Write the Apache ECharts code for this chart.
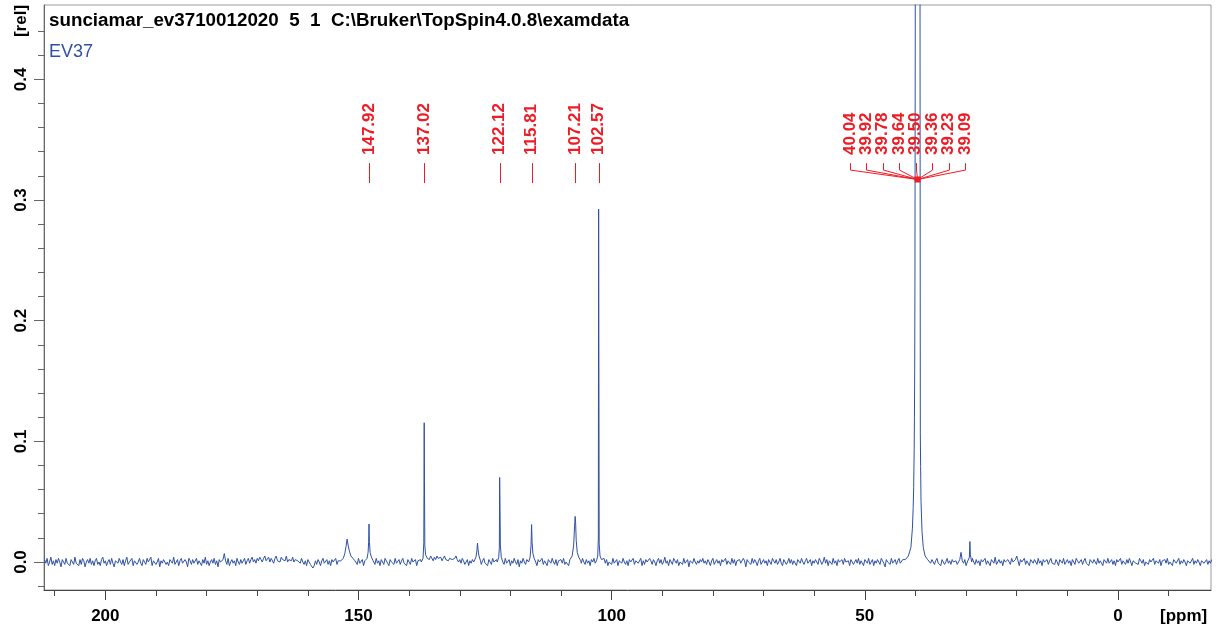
<!DOCTYPE html>
<html><head><meta charset="utf-8">
<script src="https://cdn.jsdelivr.net/npm/echarts@6/dist/echarts.min.js"></script>
<style>html,body{margin:0;padding:0;background:#fff}#c{width:1219px;height:631px}</style>
</head><body><div id="c"></div>
<script>
// ---------- text ----------
const titleText = 'sunciamar_ev3710012020  5  1  C:\\Bruker\\TopSpin4.0.8\\examdata';
const sampleName = 'EV37';
const xUnit = '[ppm]';
const yUnit = '[rel]';

// ---------- axes ----------
const xRange = [-18.37, 212.11];
const yRange = [-0.0232, 0.4616];
const xMajorTicks = [200, 150, 100, 50, 0];
const xMinorTicks = [210, 200, 190, 180, 170, 160, 150, 140, 130, 120, 110, 100, 90, 80, 70, 60, 50, 40, 30, 20, 10, 0, -10];
const yMajorTicks = [0, 0.1, 0.2, 0.3, 0.4];
const yMinorTicks = [-0.02, 0, 0.02, 0.04, 0.06, 0.08, 0.1, 0.12, 0.14, 0.16, 0.18, 0.2, 0.22, 0.24, 0.26, 0.28, 0.3, 0.32, 0.34, 0.36, 0.38, 0.4, 0.42, 0.44];

// ---------- peak picking labels ----------
const peakShifts = [147.92, 137.02, 122.12, 115.81, 107.21, 102.57];
const solventShifts = [40.04, 39.92, 39.78, 39.64, 39.50, 39.36, 39.23, 39.09];

// ---------- spectrum: baseline (noise, in 1/1000 rel) ----------
const baselineStart = 212;   // ppm of first baseline value
const baselineStep = 0.25;   // ppm between baseline values
const baselineNoise = [
  2,-1,3,-3,0,4,-2,1,-3,2,-1,3,0,-4,2,1,-2,3,-1,0,-3,2,1,-2,4,-1,0,-3,2,-2,3,1,-4,0,2,-1,3,-2,1,-3,
  1,3,-2,0,-3,2,4,-1,1,-3,0,2,-2,3,-1,-4,1,2,-1,3,0,-2,2,-3,1,4,-2,0,-1,3,-3,1,2,-2,0,3,-1,-3,2,1,
  -2,3,0,-1,4,-3,1,2,-2,0,3,-4,1,-1,2,3,-2,0,-3,2,1,-1,4,-2,0,2,-3,1,3,-1,-2,2,0,-4,3,1,-2,2,-1,0,
  3,-2,1,0,-3,2,-1,4,-2,1,-3,0,2,-1,3,-2,1,-4,2,0,-1,2,7,1,-2,3,-3,0,2,-1,1,-3,3,0,-2,2,-1,1,3,-2,
  1,3,-1,2,4,0,2,-1,3,1,4,2,0,3,5,1,2,4,0,3,2,-1,3,5,1,2,0,4,2,3,1,5,0,2,3,1,4,0,2,3,
  1,2,-1,3,0,-2,1,-3,2,0,-2,-1,-5,-3,1,-2,2,0,-3,1,3,-1,0,2,-2,1,-3,2,0,-1,3,-2,1,0,2,3,4,6,8,10,
  12,10,8,6,4,3,1,-2,3,-1,0,2,-3,1,2,3,8,12,6,2,0,-2,3,-1,1,-3,2,0,-2,3,1,-1,-3,2,0,1,-2,3,-1,0,
  2,-2,1,3,-1,0,-3,2,1,-2,3,0,-1,2,-3,1,0,2,4,6,4,2,3,4,2,5,3,1,4,2,5,3,2,4,1,3,5,2,3,1,
  3,4,2,1,3,5,2,0,2,-1,3,1,-2,0,2,-3,1,-1,2,0,2,4,8,4,1,-2,1,3,-1,0,-3,2,1,-2,3,0,-1,2,1,-3,
  0,2,1,-2,3,-1,0,2,-3,1,-1,3,0,-2,2,-4,1,-1,3,0,-2,2,1,3,6,8,5,2,1,-3,2,0,-1,3,-2,1,0,-3,2,1,
  -1,3,0,-2,2,-3,1,0,2,-1,3,-2,0,1,-3,2,1,4,8,20,25,10,4,2,-1,3,0,-2,2,-1,1,-3,2,0,3,-1,2,5,10,20,
  2,1,3,-1,2,-3,0,1,-2,3,-1,0,2,-3,1,2,-1,3,0,-2,1,-3,2,0,-1,3,-2,1,2,-1,0,3,-3,1,-2,2,0,-1,3,1,
  -2,2,0,-3,1,3,-1,2,-2,0,4,-1,1,-3,2,0,-2,3,1,-1,2,-3,0,1,-2,3,-1,0,2,-4,1,2,-1,3,0,-2,1,-1,2,0,
  3,-1,1,-2,2,0,-3,1,3,-2,0,2,-1,1,-3,2,0,-1,3,-2,1,0,-2,3,-1,2,-3,1,0,2,-1,-2,3,1,-4,2,0,1,-2,3,
  -1,2,0,-3,1,3,-2,0,2,-1,1,-3,2,0,-2,3,1,-1,2,-2,0,3,-1,-3,2,1,-2,0,3,-1,2,-2,1,0,-3,2,1,-1,3,0,
  -2,1,3,-1,0,2,-3,1,-1,2,0,-2,3,1,-2,0,4,-1,2,-3,1,0,-2,3,-1,1,-3,2,0,-1,2,-2,3,0,-1,1,-3,2,1,-2,
  0,2,-1,3,-2,1,0,-3,2,1,-1,3,-2,0,2,-3,1,-1,2,0,-2,3,1,-1,-4,2,0,1,-2,3,-1,0,2,-2,1,3,-1,0,2,1,
  2,3,4,6,8,10,14,20,30,40,60,80,40,20,12,8,5,3,2,1,-1,2,0,-2,1,3,-1,0,-3,2,1,-2,0,3,-1,1,-2,2,0,-1,
  1,-2,0,2,8,1,-1,2,-3,0,2,4,10,3,0,-2,2,-1,1,-3,2,0,-1,3,-2,1,0,-3,2,1,-1,4,-2,0,2,-1,1,-3,2,0,
  -1,2,1,-2,3,0,-1,2,5,1,-3,2,0,-1,3,-2,1,0,-3,2,1,-1,2,0,-2,3,-1,1,-3,2,0,-1,2,-2,1,3,-1,0,-2,2,
  0,-3,2,1,-1,3,-2,0,2,-1,1,-3,2,0,-2,3,1,-1,0,2,-2,1,3,-1,0,-3,2,1,-1,2,0,-2,3,-1,1,0,-3,2,1,-1,
  3,-1,0,2,-2,1,-3,2,0,-1,3,-2,1,0,-2,2,-1,3,0,-3,1,2,-1,0,-2,3,1,-1,2,-3,0,1,-2,2,0,-1,3,-2,1,0,
  -1,2,-3,1,0,2,-1,3,-2,0,1,-3,2,1,-1,0,3,-2,1,-1,2,0,-3,1,2,-1,0,3,-2,1,-1,2,0,-3,1,2,-1,0,2,-2,
  1,-1,2
];

// ---------- spectrum: peaks as [ppm, rel] ----------
const peak152 = [[153.5,0.001],[153.0,0.003],[152.7,0.007],[152.45,0.013],[152.25,0.019],[152.05,0.014],[151.8,0.009],[151.5,0.005],[151.1,0.003],[150.7,0.001]];
const peak148 = [[148.6,0.0],[148.3,0.003],[148.1,0.008],[148.0,0.016],[147.92,0.0315],[147.85,0.017],[147.7,0.008],[147.45,0.004],[147.1,0.001]];
const peak137 = [[137.6,0.0],[137.25,0.003],[137.1,0.016],[137.02,0.1154],[136.97,0.0673],[136.9,0.014],[136.75,0.006],[136.4,0.003]];
const peak126 = [[127.1,0.0],[126.8,0.004],[126.62,0.009],[126.5,0.0157],[126.38,0.010],[126.2,0.005],[125.9,0.001]];
const peak122 = [[122.6,0.0],[122.3,0.004],[122.18,0.012],[122.12,0.070],[122.06,0.049],[121.98,0.014],[121.8,0.004],[121.5,0.0]];
const peak116 = [[116.4,0.0],[116.1,0.004],[115.92,0.014],[115.81,0.031],[115.72,0.017],[115.55,0.007],[115.3,0.003],[115.0,0.0]];
const peak107 = [[108.2,0.001],[107.8,0.005],[107.5,0.014],[107.32,0.030],[107.21,0.0378],[107.12,0.033],[107.0,0.018],[106.8,0.008],[106.5,0.004],[106.1,0.001]];
const peak103 = [[103.0,0.001],[102.75,0.005],[102.63,0.019],[102.57,0.2925],[102.52,0.163],[102.46,0.015],[102.3,0.005],[102.0,0.002]];
const peakDMSO = [[42.0,0.002],[41.4,0.005],[40.9,0.012],[40.6,0.028],[40.45,0.045],[40.35,0.062],[40.25,0.093],[40.2,0.12],[40.15,0.16],[40.1,0.232],[40.04,0.43],[39.98,0.95],[39.92,1.4],[39.85,1.0],[39.78,2.6],[39.71,1.9],[39.64,3.3],[39.57,2.5],[39.50,3.7],[39.43,2.5],[39.36,3.3],[39.29,1.9],[39.23,2.6],[39.16,1.0],[39.09,0.426],[39.04,0.107],[38.98,0.079],[38.9,0.05],[38.7,0.025],[38.45,0.012],[38.1,0.005],[37.6,0.002]];
const peak29 = [[29.6,0.0],[29.35,0.004],[29.25,0.017],[29.15,0.006],[28.9,0.0]];
const peakProfiles = [peak152, peak148, peak137, peak126, peak122, peak116, peak107, peak103, peakDMSO, peak29];

// ---------- build series data ----------
function inPeak(x) {
  return peakProfiles.some(p => x <= p[0][0] && x >= p[p.length - 1][0]);
}
const spectrum = [];
baselineNoise.forEach((v, i) => {
  const x = baselineStart - i * baselineStep;
  if (!inPeak(x)) spectrum.push([x, v / 1000]);
});
peakProfiles.forEach(p => p.forEach(q => spectrum.push(q)));
spectrum.sort((a, b) => b[0] - a[0]);

// ---------- style ----------
const FONT = '"Liberation Sans", Arial, Helvetica, sans-serif';
const BLUE = '#2f50a5';
const RED = '#ee1c25';
const labelTextBase = 0.3373, labelLineTop = 0.3306, labelLineBottom = 0.3140;
const groupStemBottom = 0.3248, groupJoin = 0.3170;

const chart = echarts.init(document.getElementById('c'), null, { renderer: 'canvas' });

const crisp = v => Math.round(v) + 0.5;

const option = {
  animation: false,
  backgroundColor: '#fff',
  grid: { left: 44, right: 8, top: 5, bottom: 41, show: true, borderColor: '#9a9a9a', borderWidth: 1, containLabel: false },
  xAxis: [
    {
      type: 'value', min: xRange[0], max: xRange[1], inverse: true, position: 'bottom',
      axisLine: { show: true, onZero: false, lineStyle: { color: '#444', width: 1 } },
      axisTick: { show: true, length: 10, customValues: xMajorTicks, lineStyle: { color: '#444' } },
      axisLabel: { show: true, customValues: xMajorTicks, margin: 18, color: '#000', fontWeight: 'bold', fontSize: 17, fontFamily: FONT },
      splitLine: { show: false }
    },
    {
      type: 'value', min: xRange[0], max: xRange[1], inverse: true, position: 'bottom',
      axisLine: { show: false, onZero: false },
      axisTick: { show: true, length: 6, customValues: xMinorTicks, lineStyle: { color: '#444' } },
      axisLabel: { show: false },
      splitLine: { show: false }
    }
  ],
  yAxis: [
    {
      type: 'value', min: yRange[0], max: yRange[1], position: 'left',
      axisLine: { show: true, onZero: false, lineStyle: { color: '#666', width: 1 } },
      axisTick: { show: true, length: 10, customValues: yMajorTicks, lineStyle: { color: '#666' } },
      axisLabel: { show: true, customValues: yMajorTicks, rotate: 90, margin: 14, color: '#000', fontWeight: 'bold', fontSize: 17, fontFamily: FONT, formatter: v => v.toFixed(1) },
      splitLine: { show: false }
    },
    {
      type: 'value', min: yRange[0], max: yRange[1], position: 'left',
      axisLine: { show: false, onZero: false },
      axisTick: { show: true, length: 6, customValues: yMinorTicks, lineStyle: { color: '#666' } },
      axisLabel: { show: false },
      splitLine: { show: false }
    }
  ],
  graphic: [
    { type: 'text', left: 49, top: 11, style: { text: titleText, fill: '#000', font: 'bold 18.8px ' + FONT } },
    { type: 'text', left: 49, top: 43, style: { text: sampleName, fill: BLUE, font: '18px ' + FONT } },
    { type: 'text', left: 1160, top: 608, style: { text: xUnit, fill: '#000', font: 'bold 17px ' + FONT } },
    { type: 'text', x: 21, y: 21, rotation: Math.PI / 2, style: { text: yUnit, fill: '#000', font: 'bold 17px ' + FONT, align: 'center', verticalAlign: 'middle' } }
  ],
  series: [
    {
      type: 'line', xAxisIndex: 0, yAxisIndex: 0, data: spectrum, symbol: 'none', clip: true,
      lineStyle: { color: BLUE, width: 1 }, silent: true, z: 2
    },
    {
      type: 'custom', xAxisIndex: 0, yAxisIndex: 0, data: peakShifts.map(v => [v]), clip: false, silent: true, z: 5,
      renderItem: function (params, api) {
        const ppm = api.value(0);
        const t = api.coord([ppm, labelTextBase]);
        const a = api.coord([ppm, labelLineTop]);
        const b = api.coord([ppm, labelLineBottom]);
        return {
          type: 'group', children: [
            { type: 'line', shape: { x1: crisp(a[0]), y1: a[1], x2: crisp(b[0]), y2: b[1] }, style: { stroke: RED, lineWidth: 1 } },
            { type: 'text', x: t[0], y: t[1], rotation: Math.PI / 2, style: { text: ppm.toFixed(2), fill: RED, font: 'bold 17px ' + FONT, align: 'left', verticalAlign: 'middle' } }
          ]
        };
      }
    },
    {
      type: 'custom', xAxisIndex: 0, yAxisIndex: 0, data: solventShifts.map(v => [v]), clip: false, silent: true, z: 5,
      renderItem: function (params, api) {
        const i = params.dataIndex;
        const n = solventShifts.length;
        const ppm = api.value(0);
        const center = solventShifts.reduce((s, v) => s + v, 0) / n;
        const join = api.coord([center, groupJoin]);
        const gap = 16.45;
        const lx = join[0] - 10.2 + (i - (n - 1) / 2) * gap;
        const t = api.coord([ppm, labelTextBase]);
        const top = api.coord([ppm, labelLineTop]);
        const stemB = api.coord([ppm, groupStemBottom]);
        const children = [
          { type: 'line', shape: { x1: crisp(lx), y1: top[1], x2: crisp(lx), y2: stemB[1] }, style: { stroke: RED, lineWidth: 1 } },
          { type: 'line', shape: { x1: crisp(lx), y1: stemB[1], x2: join[0], y2: join[1] }, style: { stroke: RED, lineWidth: 1 } },
          { type: 'text', x: lx, y: t[1], rotation: Math.PI / 2, style: { text: ppm.toFixed(2), fill: RED, font: 'bold 17px ' + FONT, align: 'left', verticalAlign: 'middle' } }
        ];
        if (i === 0) {
          children.push({ type: 'rect', shape: { x: join[0] - 3, y: join[1] - 3, width: 6, height: 6 }, style: { fill: RED } });
        }
        return { type: 'group', children: children };
      }
    }
  ]
};
chart.setOption(option);
</script>
</body></html>
